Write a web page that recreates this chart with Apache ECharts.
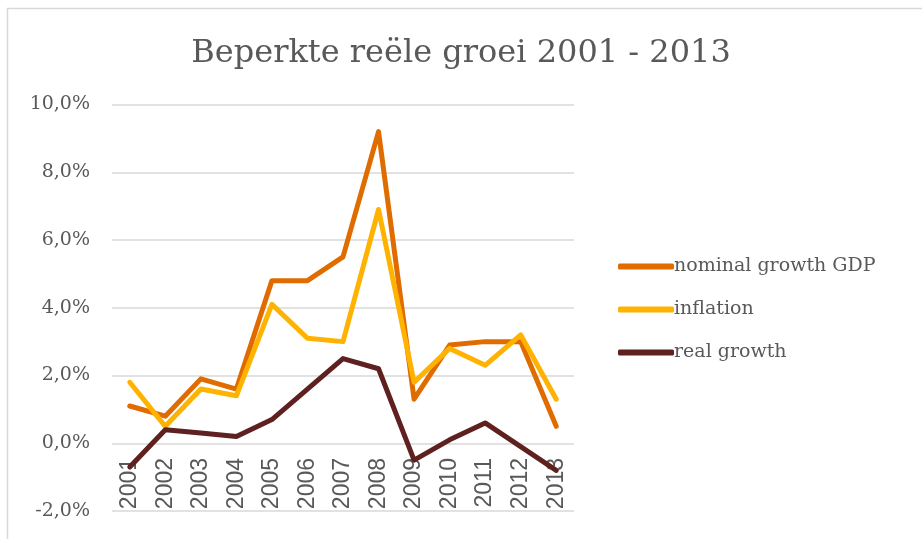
<!doctype html>
<html><head><meta charset="utf-8" />
<style>
  html,body,#app{margin:0;padding:0;width:922px;height:539px;background:#ffffff}
</style>
<script src="https://cdn.jsdelivr.net/npm/echarts@6/dist/echarts.min.js"></script>
</head><body><div id="app"></div>
<script>
  // chart data
  const years = ['2001','2002','2003','2004','2005','2006','2007','2008','2009','2010','2011','2012','2013'];
  const nominalGrowth = [1.1, 0.8, 1.9, 1.6, 4.8, 4.8, 5.5, 9.2, 1.3, 2.9, 3.0, 3.0, 0.5];
  const inflation     = [1.8, 0.5, 1.6, 1.4, 4.1, 3.1, 3.0, 6.9, 1.8, 2.8, 2.3, 3.2, 1.3];
  const realGrowth    = [-0.7, 0.4, 0.3, 0.2, 0.7, 1.6, 2.5, 2.2, -0.5, 0.1, 0.6, -0.1, -0.8];
  const seriesNames = ['nominal growth GDP', 'inflation', 'real growth'];

  const serif = "'DejaVu Serif', 'Liberation Serif', serif";
  const txt = '#595959';
  const colors = ['#E06C00', '#FFB300', '#5F2120'];

  const chart = echarts.init(document.getElementById('app'));
  const mk = (name, data, color) => ({
    name, type: 'line', data, symbol: 'none', color,
    lineStyle: { width: 5, color, cap: 'round', join: 'round' }
  });
  chart.setOption({
    animation: false,
    backgroundColor: '#ffffff',
    color: colors,
    graphic: [{
      type: 'rect', shape: { x: 7.5, y: 8.5, width: 930, height: 560 },
      style: { fill: 'none', stroke: '#D9D9D9', lineWidth: 1.5 }, silent: true
    }],
    title: {
      text: 'Beperkte reële groei 2001 - 2013', left: 'center', top: 33,
      textStyle: { fontFamily: serif, fontWeight: 'normal', fontSize: 32, color: txt }
    },
    legend: {
      orient: 'vertical', left: 613, top: 252, itemGap: 24,
      icon: 'roundRect', itemWidth: 56, itemHeight: 6,
      textStyle: { fontFamily: serif, fontSize: 19, color: txt, padding: [0, 0, 0, -5] },
      data: seriesNames
    },
    grid: { left: 112, right: 348, top: 104.5, bottom: 28, containLabel: false, outerBoundsMode: 'none' },
    xAxis: {
      type: 'category', data: years, boundaryGap: true,
      axisLine: { show: false }, axisTick: { show: false },
      // labels sit just under the 0,0% line, as in the reference
      axisLabel: { rotate: 90, margin: -53, fontFamily: "'Liberation Sans', Arial, sans-serif", fontSize: 23, color: txt }
    },
    yAxis: {
      type: 'value', min: -2, max: 10, interval: 2,
      axisLine: { show: false }, axisTick: { show: false },
      splitLine: { lineStyle: { color: '#D9D9D9', width: 1.5 } },
      axisLabel: {
        margin: 22, fontFamily: serif, fontSize: 19, color: txt,
        formatter: v => v.toFixed(1).replace('.', ',') + '%'
      }
    },
    series: [
      mk(seriesNames[0], nominalGrowth, colors[0]),
      mk(seriesNames[1], inflation, colors[1]),
      mk(seriesNames[2], realGrowth, colors[2])
    ]
  });
</script></body></html>
